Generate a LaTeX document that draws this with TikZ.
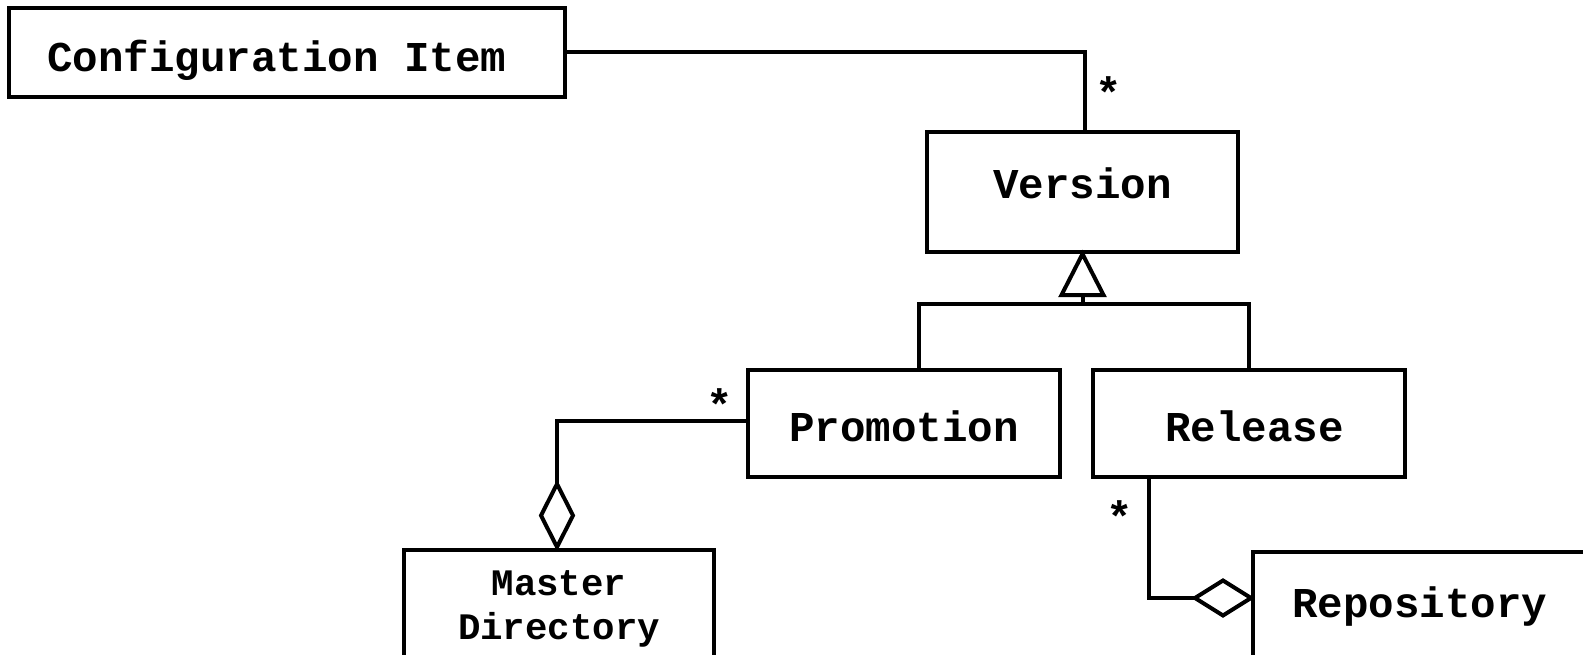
\documentclass[tikz,border=0pt]{standalone}
\usepackage{fontspec}
\setmonofont{Liberation Mono}
\usetikzlibrary{calc}
\begin{document}
\begin{tikzpicture}[x=1pt,y=-1pt,line width=4pt,
  cls/.style={draw, line width=4pt, inner sep=0pt,
    font=\fontsize{42.5}{50}\selectfont\ttfamily\bfseries, text depth=8pt},
  mult/.style={inner sep=0pt, font=\fontsize{44}{50}\selectfont\ttfamily\bfseries},
  hollow/.style={draw, fill=white, line width=4pt, line join=miter}
]
\useasboundingbox (0,0) rectangle (1583,655);

% classes
\node[cls, minimum width=556pt, minimum height=89pt, text height=47pt] (cfg) at (287,52.5) {Configuration Item\hspace*{20pt}};
\node[cls, minimum width=311pt, minimum height=120pt, text height=22pt] (ver) at (1082.5,192) {Version};
\node[cls, minimum width=312pt, minimum height=107pt, text height=44pt] (prom) at (904,423.5) {Promotion};
\node[cls, minimum width=312pt, minimum height=107pt, text height=44pt] (rel) at (1249,423.5) {\hspace*{11pt}Release};
\node[draw, line width=4pt, inner sep=0pt, align=center,
  font=\fontsize{37.4}{44}\selectfont\ttfamily\bfseries,
  minimum width=310pt, minimum height=118pt] (mst) at (559,609) {Master\\Directory};
\node[cls, minimum width=334pt, minimum height=110pt, text height=28pt] (repo) at (1420,607) {Repository};

% association: configuration item -- version
\draw (cfg.east) -| ($(ver.north)+(2,0)$);
\node[mult] (m1) at (1109,93) {*};

% generalization: promotion, release -> version
\coordinate (tbase) at ($(ver.south)+(0,41)$);
\coordinate (bar) at ($(ver.south)+(0,50)$);
\coordinate (pup) at ($(prom.north west)+(173,0)$);
\draw (pup) |- (bar) -| (rel.north);
\draw (tbase) -- (bar);
\draw[hollow] (ver.south) -- ++(-21,41) -- ++(42,0) -- cycle;

% aggregation: master directory <>-- promotion
\coordinate (pw) at ($(prom.west)+(0,-3)$);
\coordinate (md) at ($(mst.north)+(-2,-64)$);
\draw (pw) -| (md);
\draw[hollow] ($(mst.north)+(-2,-1)$) -- ++(-16,-31.5) -- ++(16,-31.5) -- ++(16,31.5) -- cycle;
\node[mult] (m2) at (720,405) {*};

% aggregation: repository <>-- release
\coordinate (rs) at ($(rel.south west)+(58,0)$);
\coordinate (rd) at ($(repo.north west)+(-56,48)$);
\draw (rs) |- (rd);
\draw[hollow] ($(repo.north west)+(0,48)$) -- ++(-28,-17.5) -- ++(-28,17.5) -- ++(28,17.5) -- cycle;
\node[mult] (m3) at (1120,517) {*};
\end{tikzpicture}
\end{document}
